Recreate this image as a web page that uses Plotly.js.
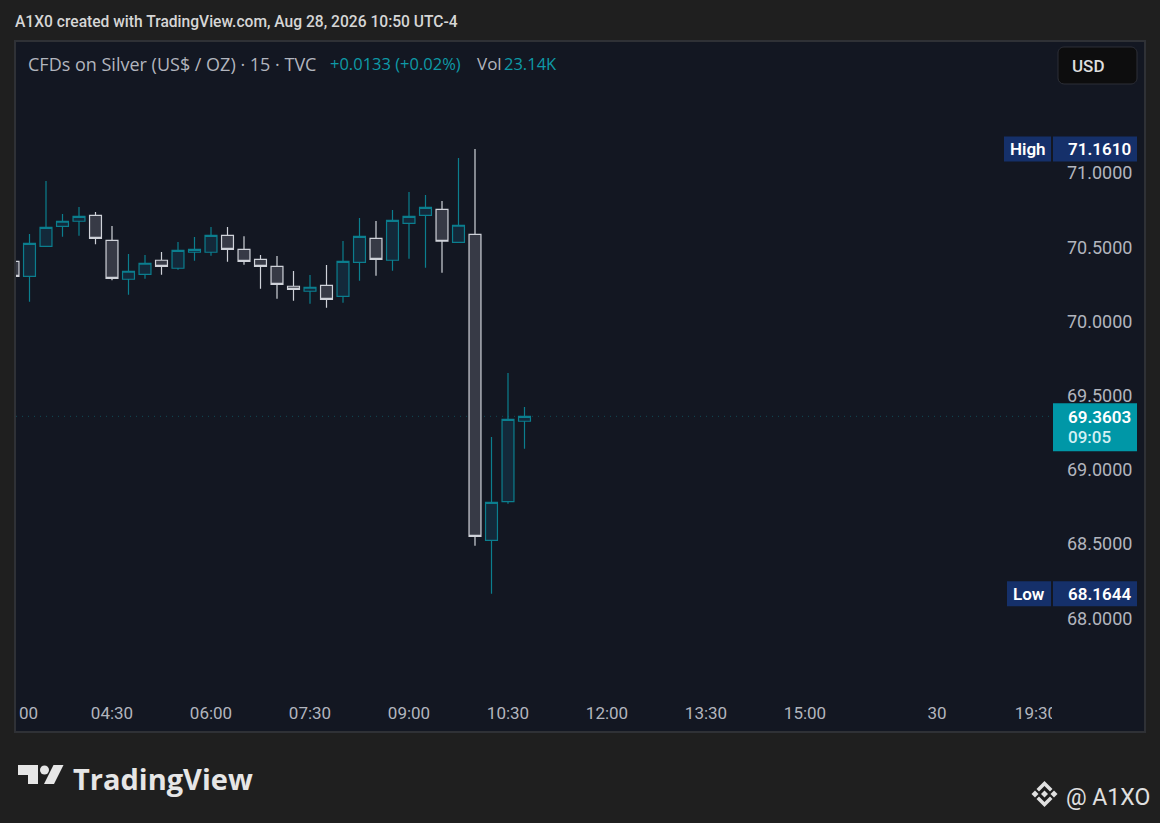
<!DOCTYPE html>
<html><head><meta charset="utf-8">
<script src="https://cdn.plot.ly/plotly-3.0.1.min.js"></script>
<style>html,body{margin:0;padding:0;background:#1f1f1f;}#chart{width:1160px;height:823px;}</style>
</head><body><div id="chart"></div>
<script>
// ---- data (15-minute candles, CFDs on Silver) ----
const times = ["03:00","03:15","03:30","03:45","04:00","04:15","04:30","04:45","05:00","05:15","05:30","05:45",
               "06:00","06:15","06:30","06:45","07:00","07:15","07:30","07:45","08:00","08:15","08:30","08:45",
               "09:00","09:15","09:30","09:45","10:00","10:15","10:30","10:45"];
const openP  = [70.405,70.304,70.506,70.641,70.675,70.715,70.546,70.284,70.317,70.412,70.358,70.466,
                70.466,70.580,70.486,70.418,70.371,70.237,70.203,70.243,70.169,70.398,70.560,70.412,
                70.661,70.715,70.755,70.533,70.587,68.525,68.785,69.327];
const highP  = [70.420,70.589,70.946,70.724,70.771,70.737,70.643,70.454,70.447,70.468,70.535,70.569,
                70.636,70.636,70.573,70.447,70.441,70.340,70.313,70.380,70.542,70.697,70.677,70.751,
                70.872,70.852,70.811,71.101,71.161,69.221,69.652,69.423];
const lowP   = [70.290,70.133,70.506,70.571,70.577,70.520,70.277,70.180,70.288,70.315,70.348,70.409,
                70.443,70.402,70.382,70.220,70.153,70.139,70.119,70.092,70.126,70.274,70.308,70.342,
                70.423,70.362,70.328,70.533,68.489,68.1644,68.772,69.142];
const closeP = [70.304,70.526,70.634,70.675,70.708,70.560,70.290,70.338,70.392,70.371,70.479,70.486,
                70.580,70.486,70.405,70.371,70.250,70.216,70.230,70.149,70.405,70.573,70.418,70.681,
                70.708,70.769,70.540,70.648,68.552,68.781,69.340,69.3603];
const tickTimes  = ["03:00","04:30","06:00","07:30","09:00","10:30","12:00","13:30","15:00","17:00","19:30"];
const tickLabels = ["03:00","04:30","06:00","07:30","09:00","10:30","12:00","13:30","15:00","30","19:30"];
const priceTicks = [68.0,68.5,69.0,69.5,70.0,70.5,71.0];
const sessionHigh = 71.1610, sessionLow = 68.1644, lastPrice = 69.3603, countdown = "09:05";

// ---- geometry helpers ----
const W=1160,H=823,L=16,R=108,T=41,B=123;
const pw=W-L-R, ph=H-T-B;
const px=x=>(x-L)/pw, py=y=>1-(y-T)/ph;
function slot(t){const a=t.split(':').map(Number);let m=a[0]*60+a[1];if(m>=18*60)m-=60;return (m-180)/15;}
const xRange=[(16-13)/16.5,(1052-13)/16.5];
function pathPx(pts){return pts.map((p,i)=>(i?'L':'M')+px(p[0]).toFixed(5)+','+py(p[1]).toFixed(5)).join(' ')+' Z';}
function rrect(x0,y0,x1,y1,r){
  const k=0.55*r;
  const P=(x,y)=>px(x).toFixed(5)+','+py(y).toFixed(5);
  return 'M'+P(x0+r,y0)+' L'+P(x1-r,y0)+' C'+P(x1-r+k,y0)+' '+P(x1,y0+r-k)+' '+P(x1,y0+r)+
         ' L'+P(x1,y1-r)+' C'+P(x1,y1-r+k)+' '+P(x1-r+k,y1)+' '+P(x1-r,y1)+
         ' L'+P(x0+r,y1)+' C'+P(x0+r-k,y1)+' '+P(x0,y1-r+k)+' '+P(x0,y1-r)+
         ' L'+P(x0,y0+r)+' C'+P(x0,y0+r-k)+' '+P(x0+r-k,y0)+' '+P(x0+r,y0)+' Z';
}
const FONT="Roboto, 'Open Sans', sans-serif";
const OS="'Open Sans', Roboto, sans-serif";
const TEAL='#0e9aa7', GRAY='#b2b5be', BG='#1f1f1f', PANEL='#131722', LBL='#15306a';

const trace={type:'candlestick',x:times.map(slot),open:openP,high:highP,low:lowP,close:closeP,
  increasing:{line:{color:'#0b7e8e',width:1.2},fillcolor:'#13293a'},
  decreasing:{line:{color:'#cfd2d9',width:1.2},fillcolor:'#373a46'},
  whiskerwidth:0,hoverinfo:'skip',showlegend:false};

const shapes=[
  {type:'rect',layer:'below',xref:'paper',yref:'paper',x0:px(15),x1:px(1145),y0:py(41),y1:py(732),fillcolor:PANEL,line:{width:0}},
  {type:'line',layer:'below',xref:'paper',yref:'y',x0:0,x1:1,y0:lastPrice,y1:lastPrice,line:{color:'rgba(14,154,167,0.4)',width:1,dash:'1px,5px'}},
  {type:'rect',layer:'above',xref:'paper',yref:'paper',x0:px(0),x1:px(15),y0:py(695),y1:py(740),fillcolor:BG,line:{width:0}},
  {type:'rect',layer:'above',xref:'paper',yref:'paper',x0:px(1052),x1:px(1144),y0:py(700),y1:py(731),fillcolor:PANEL,line:{width:0}},
  {type:'rect',layer:'above',xref:'paper',yref:'paper',x0:px(15),x1:px(1145),y0:py(41),y1:py(732),fillcolor:'rgba(0,0,0,0)',line:{color:'#2f3136',width:2}},
  {type:'path',layer:'above',xref:'paper',yref:'paper',path:rrect(1058,47,1137,84,6),fillcolor:'#0d0d0e',line:{color:'#2e3038',width:1}},
  {type:'rect',layer:'above',xref:'paper',yref:'y',ysizemode:'pixel',yanchor:sessionHigh,y0:-12.5,y1:12.5,x0:px(1004),x1:px(1051),fillcolor:LBL,line:{width:0}},
  {type:'rect',layer:'above',xref:'paper',yref:'y',ysizemode:'pixel',yanchor:sessionHigh,y0:-12.5,y1:12.5,x0:px(1053),x1:px(1137),fillcolor:LBL,line:{width:0}},
  {type:'rect',layer:'above',xref:'paper',yref:'y',ysizemode:'pixel',yanchor:sessionLow,y0:-12.5,y1:12.5,x0:px(1007),x1:px(1051),fillcolor:LBL,line:{width:0}},
  {type:'rect',layer:'above',xref:'paper',yref:'y',ysizemode:'pixel',yanchor:sessionLow,y0:-12.5,y1:12.5,x0:px(1053),x1:px(1137),fillcolor:LBL,line:{width:0}},
  {type:'rect',layer:'above',xref:'paper',yref:'y',ysizemode:'pixel',yanchor:lastPrice,y0:-35,y1:13,x0:px(1053),x1:px(1137),fillcolor:'#0097a7',line:{width:0}},
  {type:'path',layer:'above',xref:'paper',yref:'paper',path:pathPx([[18,765],[38,765],[38,784],[28,784],[28,775],[18,775]]),fillcolor:'#e6e6e6',line:{width:0}},
  {type:'circle',layer:'above',xref:'paper',yref:'paper',x0:px(40),x1:px(49),y0:py(765.5),y1:py(774.5),fillcolor:'#e6e6e6',line:{width:0}},
  {type:'path',layer:'above',xref:'paper',yref:'paper',path:pathPx([[53.5,765],[63.5,765],[54,784],[44,784]]),fillcolor:'#e6e6e6',line:{width:0}},
  {type:'path',layer:'above',xref:'paper',yref:'paper',path:pathPx([[1044.5,790.5],[1048,794],[1044.5,797.5],[1041,794]]),fillcolor:'#e0e0e0',line:{width:0}},
  {type:'path',layer:'above',xref:'paper',yref:'paper',path:pathPx([[1035,790.5],[1038.5,794],[1035,797.5],[1031.5,794]]),fillcolor:'#e0e0e0',line:{width:0}},
  {type:'path',layer:'above',xref:'paper',yref:'paper',path:pathPx([[1054,790.5],[1057.5,794],[1054,797.5],[1050.5,794]]),fillcolor:'#e0e0e0',line:{width:0}},
  {type:'path',layer:'above',xref:'paper',yref:'paper',path:pathPx([[1044.5,781],[1052.5,789],[1050,791.5],[1044.5,786],[1039,791.5],[1036.5,789]]),fillcolor:'#e0e0e0',line:{width:0}},
  {type:'path',layer:'above',xref:'paper',yref:'paper',path:pathPx([[1044.5,807],[1052.5,799],[1050,796.5],[1044.5,802],[1039,796.5],[1036.5,799]]),fillcolor:'#e0e0e0',line:{width:0}}
];

function ann(text,x,y,o){return Object.assign({text:text,xref:'paper',yref:'paper',x:px(x),y:py(y),xanchor:'left',yanchor:'middle',showarrow:false,font:{family:FONT,size:16,color:GRAY}},o||{});}
const annotations=[
  ann('A1X0 created with TradingView.com, Aug 28, 2026 10:50 UTC-4',13,22,{font:{family:FONT,size:15.6,color:'#d6d6d6',weight:500}}),
  ann('CFDs on Silver (US$ / OZ) · 15 · TVC',26,64,{font:{family:OS,size:18,color:GRAY}}),
  ann('+0.0133 (+0.02%)',328,64,{font:{family:OS,size:16.5,color:TEAL}}),
  ann('Vol',475,64,{font:{family:OS,size:17,color:GRAY}}),
  ann('23.14K',502,64,{font:{family:OS,size:16.5,color:TEAL}}),
  ann('USD',1088,66,{xanchor:'center',font:{family:FONT,size:17,color:'#dedede',weight:500}}),
  // visible part of the first time label, which the panel edge cuts off
  ann(tickLabels[0].slice(3),16.5,713,{font:{family:FONT,size:17,color:GRAY}}),
  {text:'High',xref:'paper',yref:'y',x:px(1027.5),y:sessionHigh,xanchor:'center',yanchor:'middle',showarrow:false,font:{family:FONT,size:17,color:'#ffffff',weight:600}},
  {text:sessionHigh.toFixed(4),xref:'paper',yref:'y',x:px(1066),y:sessionHigh,xanchor:'left',yanchor:'middle',showarrow:false,font:{family:FONT,size:17,color:'#ffffff',weight:600}},
  {text:'Low',xref:'paper',yref:'y',x:px(1029),y:sessionLow,xanchor:'center',yanchor:'middle',showarrow:false,font:{family:FONT,size:17,color:'#ffffff',weight:600}},
  {text:sessionLow.toFixed(4),xref:'paper',yref:'y',x:px(1066),y:sessionLow,xanchor:'left',yanchor:'middle',showarrow:false,font:{family:FONT,size:17,color:'#ffffff',weight:600}},
  {text:lastPrice.toFixed(4),xref:'paper',yref:'y',x:px(1066),y:lastPrice,yshift:-1,xanchor:'left',yanchor:'middle',showarrow:false,font:{family:FONT,size:17,color:'#ffffff',weight:600}},
  {text:countdown,xref:'paper',yref:'y',x:px(1066),y:lastPrice,yshift:-21,xanchor:'left',yanchor:'middle',showarrow:false,font:{family:FONT,size:17,color:'#d2f0f3',weight:500}},
  ann('TradingView',71,778,{font:{family:OS,size:29,color:'#e6e6e6',weight:700}}),
  ann('@ A1XO',1064,797,{font:{family:FONT,size:23,color:'#e0e0e0'}})
];

const layout={width:W,height:H,margin:{l:L,r:R,t:T,b:B,pad:0},
  paper_bgcolor:BG,plot_bgcolor:PANEL,showlegend:false,dragmode:false,
  xaxis:{range:xRange,rangeslider:{visible:false},showgrid:false,zeroline:false,showline:false,
    tickmode:'array',tickvals:tickTimes.map(slot),ticktext:tickLabels,ticks:'',ticklabelstandoff:1,
    tickfont:{family:FONT,size:17,color:GRAY},fixedrange:true},
  yaxis:{range:[71-(700-173)/148.4,71+(173-41)/148.4],side:'right',showgrid:false,zeroline:false,showline:false,
    tickmode:'array',tickvals:priceTicks,ticktext:priceTicks.map(v=>v.toFixed(4)),ticks:'',ticklabelstandoff:14,
    tickfont:{family:FONT,size:18,color:GRAY},fixedrange:true},
  boxgap:0.15,boxgroupgap:0.15,
  shapes:shapes,annotations:annotations};
Plotly.newPlot('chart',[trace],layout,{displayModeBar:false,staticPlot:true});
</script></body></html>
